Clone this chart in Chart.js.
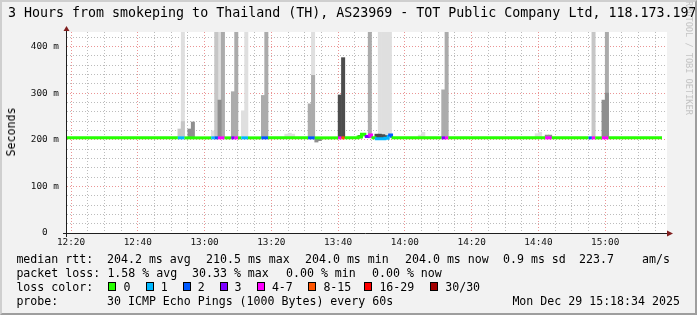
<!DOCTYPE html>
<html>
<head>
<meta charset="utf-8">
<script src="https://cdn.jsdelivr.net/npm/chart.js@4.4.1/dist/chart.umd.min.js"></script>
<style>
  html, body { margin:0; padding:0; background:#f2f2f2; }
  #frame { position:relative; width:697px; height:315px; overflow:hidden; background:#f2f2f2;
           font-family:'DejaVu Sans Mono', monospace; color:#000; }
  #frame canvas { position:absolute; left:0; top:0; }
  .txt { position:absolute; white-space:pre; font-size:11.6px; line-height:14px; }
  #title { position:absolute; left:8px; top:5px; font-size:13.3px; line-height:16px; white-space:pre; }
  #ylab { position:absolute; left:11px; top:132px; font-size:11.6px; line-height:14px; white-space:pre;
          transform: translate(-50%,-50%) rotate(-90deg); }
  #wm { position:absolute; left:684px; top:1px; font-size:8.6px; line-height:9px; writing-mode:vertical-rl;
        color:#c4c4c4; white-space:pre; }
  .box { position:absolute; width:6px; height:7px; border:1px solid #000; }
  #border { position:absolute; left:0; top:0; width:697px; height:315px; box-sizing:border-box;
            border-style:solid; border-width:2px; border-color:#cfcfcf #9e9e9e #9e9e9e #cfcfcf; pointer-events:none; }
</style>
</head>
<body>
<div id="frame">
  <canvas id="c" width="697" height="315"></canvas>
  <div id="wm">RRDTOOL / TOBI OETIKER</div>
  <div id="title">3 Hours from smokeping to Thailand (TH), AS23969 - TOT Public Company Ltd, 118.173.197</div>
  <div id="ylab">Seconds</div>
  <div id="legend"></div>
  <div id="border"></div>
</div>
<script>
// ---- data (minute index = minutes after 12:00; one step = 60 s) ----
const firstMinute = 18;
const medianRtt = [
  204,204,204,204,204,204,204,204,204,204,204,204,204,204,204,204,204,204,204,204,
  204,204,204,204,204,204,204,204,204,204,204,204,204,204,204,204,204,204,204,204,
  204,204,204,204,204,204,204,204,204,204,204,204,204,204,204,204,204,204,204,204,
  204,204,204,204,204,204,204,204,204,204,204,204,204,204,204,204,204,204,204,204,
  204,204,204,204,204,204,204,204,206,212,207,210,204,202,202,202,203,210,204,204,
  204,204,204,204,204,204,204,204,204,204,204,204,204,204,204,204,204,204,204,204,
  204,204,204,204,204,204,204,204,204,204,204,204,204,204,204,204,204,204,204,204,
  204,204,204,204,204,204,204,204,204,204,204,204,204,204,204,204,204,204,204,204,
  204,204,204,204,204,204,204,204,204,204,204,204,204,204,204,204,204,204,204
];
const lostPings = [
  0,0,0,0,0,0,0,0,0,0,0,0,0,0,0,0,0,0,0,0,
  0,0,0,0,0,0,0,0,0,0,0,0,0,0,1,1,0,0,0,0,
  0,0,0,0,1,2,5,5,0,0,3,5,0,1,1,0,0,0,0,2,
  2,0,0,0,0,0,0,0,0,0,0,0,0,2,2,0,0,0,0,0,
  0,0,5,9,0,0,0,0,0,0,3,5,0,1,1,1,1,2,0,0,
  0,0,0,0,0,0,0,0,0,0,0,0,0,3,5,0,0,0,0,0,
  0,0,0,0,0,0,0,0,0,0,0,0,0,0,0,0,0,0,0,0,
  0,0,0,0,5,5,0,0,0,0,0,0,0,0,0,0,0,2,5,0,
  0,5,5,0,0,0,0,0,0,0,0,0,0,0,0,0,0,0,0
];
// smoke bands: [minute, low ms, high ms], grouped by ping density (faint = few pings)
const smokeFaint = [
  [53,204,450],[62,204,219],[64,204,450],[71,204,262],[72,204,450],[84,204,212],[85,204,214],[86,204,212],
  [92,204,450],[112,204,450],[113,204,450],[114,204,450],[115,204,450],[124,204,210],[125,204,216],
  [159,204,213],[160,204,216]
];
const smokeLight = [[52,204,223],[53,204,239],[63,204,450],[176,204,450]];
const smokeMid = [
  [65,204,450],[68,204,303],[69,204,450],[77,204,295],[78,204,450],[91,204,277],[92,204,338],
  [109,204,450],[131,204,307],[132,204,450],[180,204,450]
];
const smokeDark = [
  [55,204,223],[56,204,238],[64,204,285],[93,195,204],[94,198,204],[162,204,210],[163,204,210],
  [179,204,285],[180,204,300]
];
const smokeDarkest = [[100,204,296],[101,204,376],[106,204,209],[111,204,212],[112,204,212],[113,204,211],[114,204,209]];

const lossBuckets = ['0','1','2','3','4-7','8-15','16-29','30/30'];
const lossColors  = ['#26ff00','#00b8ff','#0059ff','#7e00ff','#ff00ff','#ff5500','#ff0000','#a10000'];
const xTickMinutes = [20,40,60,80,100,120,140,160,180];
const xTickLabels  = ['12:20','12:40','13:00','13:20','13:40','14:00','14:20','14:40','15:00'];
const yTickValues  = [0,100,200,300,400];
const yTickLabels  = ['0','100 m','200 m','300 m','400 m'];
const rttLegend  = ['median rtt:','204.2 ms avg','210.5 ms max','204.0 ms min','204.0 ms now','0.9 ms sd','223.7','am/s'];
const lossLegend = ['packet loss:','1.58 % avg','30.33 % max','0.00 % min','0.00 % now'];
const probeLegend = ['probe:','30 ICMP Echo Pings (1000 Bytes) every 60s','Mon Dec 29 15:18:34 2025'];

// ---- helpers ----
function lossBucket(n){ if(n<=3) return n; if(n<=7) return 4; if(n<=15) return 5; if(n<=29) return 6; return 7; }
const medianPoints = medianRtt.map((v,i)=>({x:firstMinute+i, y:v}));
medianPoints.push({x:firstMinute+medianRtt.length, y:medianRtt[medianRtt.length-1]});
const toBars = list => list.map(([m,lo,hi]) => ({x:m+0.5, y:[lo,hi]}));

const MINOR = 'rgba(143,143,143,0.6)';
const MAJOR = 'rgba(222,79,79,0.6)';
const FONT = 'DejaVu Sans Mono';

function bar(list, color, order){
  return {type:'bar', data:toBars(list), backgroundColor:color, borderWidth:0, grouped:false,
          barPercentage:1, categoryPercentage:1, order};
}

const rrdPlugin = {
  id:'rrd',
  beforeDraw(chart){
    const {ctx, chartArea:a} = chart;
    ctx.save(); ctx.fillStyle='#ffffff';
    ctx.fillRect(a.left, a.top, a.right-a.left, a.bottom-a.top);
    ctx.restore();
  },
  afterDraw(chart){
    const {ctx, chartArea:a} = chart;
    const yb = Math.round(a.bottom)+0.5, xl = Math.round(a.left)-0.5;
    ctx.save();
    ctx.strokeStyle='#1f1f1f'; ctx.lineWidth=1;
    ctx.beginPath();
    ctx.moveTo(a.left-4, yb); ctx.lineTo(a.right+1, yb);
    ctx.moveTo(xl, a.bottom+4); ctx.lineTo(xl, a.top-3);
    ctx.stroke();
    ctx.fillStyle='#801f1f';
    ctx.beginPath();
    ctx.moveTo(a.right, yb-3); ctx.lineTo(a.right+6, yb); ctx.lineTo(a.right, yb+3); ctx.closePath(); ctx.fill();
    ctx.beginPath();
    ctx.moveTo(xl-3, a.top-1); ctx.lineTo(xl, a.top-6); ctx.lineTo(xl+3, a.top-1); ctx.closePath(); ctx.fill();
    ctx.restore();
  }
};

new Chart(document.getElementById('c'), {
  type:'bar',
  data:{ datasets:[
    {type:'line', data:medianPoints, order:0, borderWidth:3, stepped:'before', pointRadius:0,
     borderColor:lossColors[0], fill:false, borderCapStyle:'butt', borderJoinStyle:'miter',
     segment:{ borderColor: c => lossColors[lossBucket(lostPings[c.p0DataIndex] || 0)] }},
    bar(smokeDarkest,'#4c4c4c',1),
    bar(smokeDark,'#8e8e8e',2),
    bar(smokeMid,'#ababab',3),
    bar(smokeLight,'#c6c6c6',4),
    bar(smokeFaint,'#dfdfdf',5)
  ]},
  options:{
    responsive:false, animation:false, devicePixelRatio:1,
    layout:{ padding:{ left:17, top:32, right:30, bottom:62 } },
    plugins:{ legend:{display:false}, tooltip:{enabled:false}, title:{display:false} },
    scales:{
      x:{ type:'linear', min:18.8, max:198.5, offset:false,
          afterBuildTicks: s => { s.ticks = s.ticks.filter(t => Math.abs(t.value - Math.round(t.value/5)*5) < 1e-6); },
          afterFit: s => { s.height = 20; },
          ticks:{ stepSize:5, includeBounds:false, autoSkip:false, maxRotation:0, minRotation:0, padding:4, color:'#111',
                  font:{family:FONT, size:9.4},
                  callback: v => { const i = xTickMinutes.indexOf(v); return i>=0 ? xTickLabels[i] : ''; } },
          grid:{ color: c => (c.tick && c.tick.value % 20 === 0) ? MAJOR : MINOR, lineWidth:1, drawTicks:false, offset:false },
          border:{ display:false, dash:[1,2] } },
      y:{ type:'linear', min:0, max:431,
          afterBuildTicks: s => { s.ticks = s.ticks.filter(t => t.value % 20 === 0); },
          afterFit: s => { s.width = 50; },
          ticks:{ stepSize:20, includeBounds:false, autoSkip:false, padding:8, color:'#111', font:{family:FONT, size:9.4},
                  callback: v => { const i = yTickValues.indexOf(v); if(i<0) return ''; const l = yTickLabels[i]; return l.includes(' ') ? l : l + '  '; } },
          grid:{ color: c => (c.tick && c.tick.value % 100 === 0) ? MAJOR : MINOR, lineWidth:1, drawTicks:false },
          border:{ display:false, dash:[1,2] } }
    }
  },
  plugins:[rrdPlugin]
});

// ---- legend text (real text) ----
const leg = document.getElementById('legend');
function put(text, x, y){ const d=document.createElement('div'); d.className='txt'; d.textContent=text; d.style.left=x+'px'; d.style.top=y+'px'; leg.appendChild(d); }
const rttX = [16.4, 107, 206, 305, 405, 503, 579, 642];
rttLegend.forEach((t,i)=>put(t, rttX[i], 252));
const lossX = [16.4, 107.4, 192, 286, 372];
lossLegend.forEach((t,i)=>put(t, lossX[i], 266));
put('loss color:', 16.4, 279.5);
const boxX = [108.4, 145.8, 182.7, 219.6, 256.9, 308.4, 364.4, 430.2];
lossBuckets.forEach((b,i)=>{
  const d=document.createElement('div'); d.className='box'; d.style.left=boxX[i]+'px'; d.style.top='282px';
  d.style.background=lossColors[i]; leg.appendChild(d);
  put(b, boxX[i]+15, 279.5);
});
const probeX = [16.4, 107, 512.4];
probeLegend.forEach((t,i)=>put(t, probeX[i], 293.5));
</script>
</body>
</html>
